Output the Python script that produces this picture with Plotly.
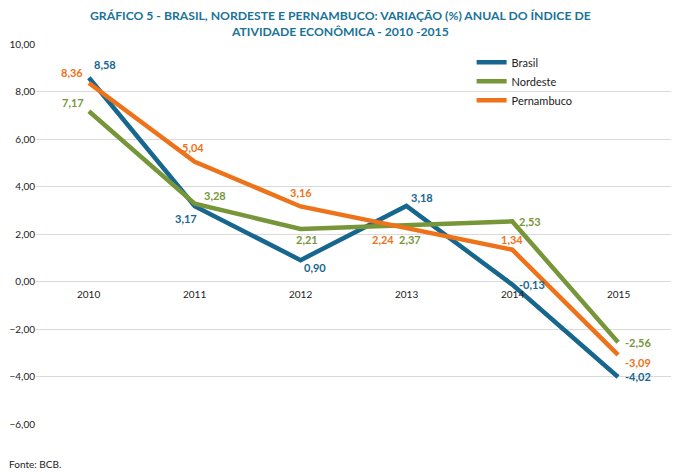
import plotly.graph_objects as go

years = ["2010", "2011", "2012", "2013", "2014", "2015"]
brasil = [8.58, 3.17, 0.90, 3.18, -0.13, -4.02]
nordeste = [7.17, 3.28, 2.21, 2.37, 2.53, -2.56]
pernambuco = [8.36, 5.04, 3.16, 2.24, 1.34, -3.09]
y_ticks = [10, 8, 6, 4, 2, 0, -2, -4, -6]

names = ["Brasil", "Nordeste", "Pernambuco"]
colors = ["#17668E", "#77963A", "#EE7219"]
series = [brasil, nordeste, pernambuco]

# label offsets (pixels) per point
offsets = [
    [(16, 13), (-9, -12), (14, -7), (16, 8), (20, 0), (20, 0)],
    [(-16, 9), (20, 8), (6, -10), (4, -14), (18, 0), (20, 0)],
    [(-17, 10), (-2, 14), (0, 14), (-23, -11), (0, 10), (20, -8)],
]

FONT = "Lato"
fig = go.Figure()
for name, vals, col in zip(names, series, colors):
    fig.add_trace(go.Scatter(
        x=years, y=vals, name=name, mode="lines",
        line=dict(color=col, width=4.5),
    ))

annotations = []
for vals, col, offs in zip(series, colors, offsets):
    for i, (v, (dx, dy)) in enumerate(zip(vals, offs)):
        annotations.append(dict(
            x=i, y=v, xref="x", yref="y", text=f"{v:.2f}".replace(".", ","),
            showarrow=False, xshift=dx, yshift=dy,
            font=dict(family=FONT, size=11, color=col, weight="bold"),
        ))

for i, yr in enumerate(years):
    annotations.append(dict(
        x=i, y=0, xref="x", yref="y", text=yr, showarrow=False,
        yshift=-12, font=dict(family=FONT, size=10, color="#222222"),
    ))

annotations.append(dict(
    x=0.479, y=1.0, xref="paper", yref="paper", xanchor="center", yanchor="top",
    yshift=38,
    text="GRÁFICO 5 - BRASIL, NORDESTE E PERNAMBUCO: VARIAÇÃO (%) ANUAL DO ÍNDICE DE<br>ATIVIDADE ECONÔMICA - 2010 -2015",
    showarrow=False, font=dict(family=FONT, size=12.2, color="#1B7397", weight="bold"),
))
annotations.append(dict(
    x=-0.045, y=0, xref="paper", yref="paper", xanchor="left", yanchor="top",
    yshift=-32, text="Fonte: BCB.", showarrow=False,
    font=dict(family=FONT, size=10, color="#222222"),
))

fig.update_layout(
    width=680, height=474,
    margin=dict(l=36, r=9, t=44, b=50),
    paper_bgcolor="white", plot_bgcolor="white",
    separators=",.",
    font=dict(family=FONT, size=10, color="#222222"),
    showlegend=True,
    legend=dict(x=0.686, y=0.99, xanchor="left", yanchor="top",
                bgcolor="rgba(0,0,0,0)", font=dict(family=FONT, size=11, color="#222222"),
                tracegroupgap=0, itemwidth=30),
    annotations=annotations,
    xaxis=dict(type="category", range=[-0.5, 5.5], showticklabels=False,
               showgrid=False, zeroline=False, showline=False, ticks=""),
    yaxis=dict(range=[-6, 10], tickvals=y_ticks, tickformat=".2f",
               showgrid=True, gridcolor="#D9D9D9", gridwidth=1,
               zeroline=False, showline=False, ticks="",
               tickfont=dict(family=FONT, size=10, color="#222222")),
)

fig.write_html("out.html", config={"displayModeBar": False},
               post_script="document.body.style.margin='0';")
